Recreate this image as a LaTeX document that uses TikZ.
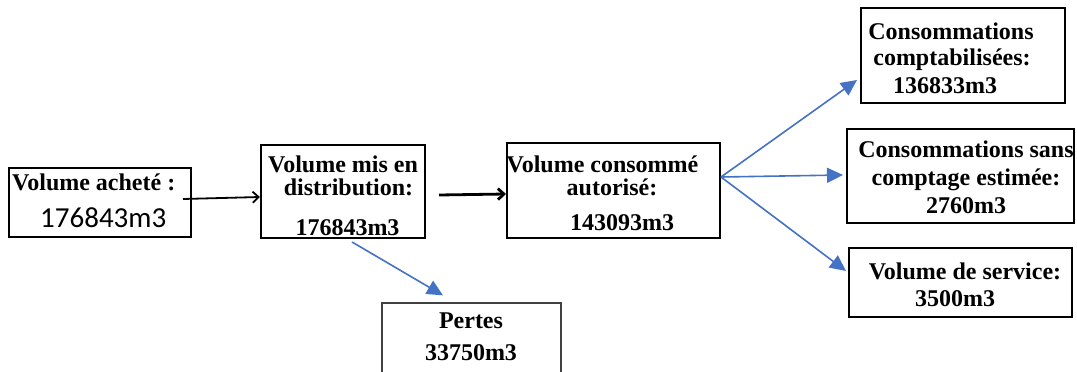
\documentclass[tikz,border=0pt]{standalone}
\usepackage{fontspec}
\setmainfont{Liberation Serif}
\newfontfamily\calibrifont{Carlito}
\usetikzlibrary{arrows.meta,calc}
\definecolor{arrowblue}{RGB}{68,114,196}
\tikzset{
  box/.style={draw=black, line width=2pt, rectangle, inner sep=0pt},
  thinbox/.style={draw=black!75, line width=1.3pt, rectangle, inner sep=0pt},
  txt/.style={anchor=base, inner sep=0pt, font=\bfseries\fontsize{24}{24}\selectfont},
  caltxt/.style={anchor=base west, inner sep=0pt, font=\calibrifont\fontsize{29}{30}\selectfont},
  bluearr/.style={draw=arrowblue, line width=1.6pt, -{Triangle[length=16pt,width=15pt]}},
  blackthin/.style={draw=black, line width=1.8pt, -{Straight Barb[length=6pt,width=11pt]}},
  blackthick/.style={draw=black, line width=2.8pt, -{Straight Barb[length=6pt,width=11pt]}}
}
\begin{document}
\begin{tikzpicture}[x=1pt,y=-1pt]
\useasboundingbox (0,0) rectangle (1077,372);
\fill[white] (0,0) rectangle (1077,372);
\clip (0,0) rectangle (1077,372);

% boxes
\node[box, minimum width=182pt, minimum height=69pt] (a) at (100,202.5) {};
\node[box, minimum width=164pt, minimum height=93pt] (b) at (343,191.5) {};
\node[box, minimum width=213pt, minimum height=95pt] (c) at (613.5,190.5) {};
\node[box, minimum width=204pt, minimum height=95pt] (d) at (963,55.5) {};
\node[box, minimum width=227pt, minimum height=94pt] (e) at (960.5,176) {};
\node[box, minimum width=223pt, minimum height=69pt] (f) at (960.5,282.5) {};
\node[thinbox, minimum width=179pt, minimum height=100pt] (g) at (471.5,353) {};

% texts
\node[txt, anchor=base west] (a1) at (12,190) {Volume achet\'e :};
\node[caltxt] (a2) at (40,227) {176843m3};

\node[txt] (b1) at (343,172) {Volume mis en};
\node[txt] (b2) at (348.5,195) {distribution:};
\node[txt] (b3) at (347.5,235) {176843m3};

\node[txt] (c1) at (602.5,172) {Volume consomm\'e};
\node[txt] (c2) at (612,195) {autoris\'e:};
\node[txt] (c3) at (622,230) {143093m3};

\node[txt] (d1) at (951,39) {Consommations};
\node[txt] (d2) at (952,65) {comptabilis\'ees:};
\node[txt] (d3) at (945,93) {136833m3};

\node[txt] (e1) at (966,157) {Consommations sans};
\node[txt] (e2) at (966,185) {comptage estim\'ee:};
\node[txt] (e3) at (966,213) {2760m3};

\node[txt] (f1) at (965,279) {Volume de service:};
\node[txt] (f2) at (955,306) {3500m3};

\node[txt] (g1) at (471,328) {Pertes};
\node[txt] (g2) at (471,360) {33750m3};

% connectors
\coordinate (aout) at (183,199);
\coordinate (bout) at (439,195);
\coordinate (csplit) at ($(c.east)+(0,-13.5)$);
\coordinate (bsplit) at ($(b.south)+(9,3)$);

\draw[blackthin] (aout) -- ($(b.west)+(0,5.5)$);
\draw[blackthick] (bout) -- ($(c.west)+(0,3.5)$);
\draw[bluearr] (csplit) -- ($(d.west)+(-3,24.5)$);
\draw[bluearr] (csplit) -- ($(e.west)+(-3,-1)$);
\draw[bluearr] (csplit) -- ($(f.west)+(-2,-11.5)$);
\draw[bluearr] (bsplit) -- ($(g.north)+(-28.5,-7)$);
\end{tikzpicture}
\end{document}
